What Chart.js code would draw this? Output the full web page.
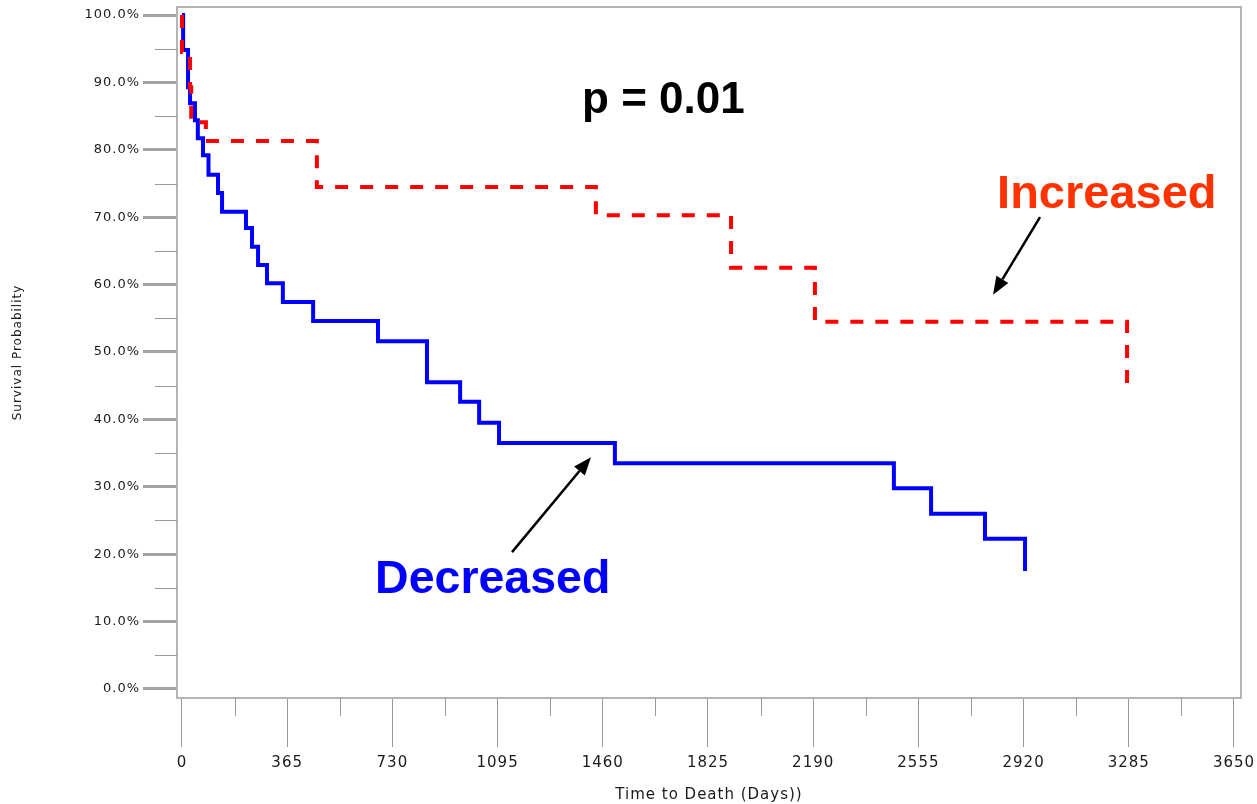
<!DOCTYPE html>
<html>
<head>
<meta charset="utf-8">
<script src="https://cdn.jsdelivr.net/npm/chart.js@4"></script>
<style>
  html, body { margin: 0; padding: 0; background: #fff; }
  canvas { display: block; }
</style>
</head>
<body>
<canvas id="km" width="1257" height="804"></canvas>
<script>
// Kaplan-Meier curves: event day -> survival % after the drop
const decreasedDays = [0, 4, 21, 28, 45, 55, 73, 92, 125, 139, 222, 243, 264, 295, 350, 455, 680, 850, 965, 1031, 1100, 1502, 2470, 2599, 2786, 2925]
const decreasedSurv = [100, 94.8, 89.3, 86.9, 84.4, 81.7, 79.2, 76.3, 73.6, 70.8, 68.4, 65.6, 62.9, 60.2, 57.4, 54.6, 51.6, 45.5, 42.6, 39.5, 36.5, 33.5, 29.8, 26.0, 22.3, 17.5]
const increasedDays = [0, 0, 28, 32, 83, 468, 1436, 1905, 2196, 3279]
const increasedSurv = [100, 94.5, 89.3, 84.1, 81.3, 74.5, 70.3, 62.5, 54.5, 44.7]

const xTicks = [0, 365, 730, 1095, 1460, 1825, 2190, 2555, 2920, 3285, 3650]
const yTicks = [0, 10, 20, 30, 40, 50, 60, 70, 80, 90, 100]

// text notes and arrows, placed in data units (day, %)
const notes = [
  { text: 'p = 0.01', day: 1388, pct: 85.5, color: '#000000', size: 44 },
  { text: 'Increased', day: 2828, pct: 71.4, color: '#ff3300', size: 47 },
  { text: 'Decreased', day: 670, pct: 14.2, color: '#0000ff', size: 46.5 }
]
const arrows = [
  { from: [2977, 70.0], to: [2814, 58.5] },
  { from: [1145, 20.3], to: [1419, 34.4] }
]

const labelColor = '#1a1a1a'
const toPoints = (days, surv) => days.map((d, i) => ({ x: d, y: surv[i] }))

const frame = {
  id: 'frame',
  beforeDraw(c) {
    c.ctx.letterSpacing = '1px'
  },
  beforeDatasetsDraw(c) {
    const { ctx, chartArea: a, scales: { x, y } } = c
    ctx.save()
    ctx.strokeStyle = '#b4b4b4'
    ctx.lineWidth = 2
    ctx.strokeRect(a.left, a.top, a.right - a.left, a.bottom - a.top)

    // minor ticks halfway between the labelled ones
    ctx.strokeStyle = '#999'
    ctx.lineWidth = 1
    ctx.beginPath()
    xTicks.slice(1).forEach(v => {
      const px = Math.round(x.getPixelForValue(v - 182.5)) + 0.5
      ctx.moveTo(px, a.bottom)
      ctx.lineTo(px, a.bottom + 18)
    })
    yTicks.slice(1).forEach(v => {
      const py = Math.round(y.getPixelForValue(v - 5)) + 0.5
      ctx.moveTo(a.left - 22, py)
      ctx.lineTo(a.left, py)
    })
    ctx.stroke()
    ctx.restore()
  },
  afterDraw(c) {
    const { ctx, scales: { x, y } } = c
    ctx.save()
    ctx.letterSpacing = '0px'
    ctx.textAlign = 'left'
    ctx.textBaseline = 'alphabetic'
    notes.forEach(n => {
      ctx.font = 'bold ' + n.size + 'px "Liberation Sans", Arial, sans-serif'
      ctx.fillStyle = n.color
      ctx.fillText(n.text, x.getPixelForValue(n.day), y.getPixelForValue(n.pct))
    })

    ctx.strokeStyle = '#000'
    ctx.fillStyle = '#000'
    ctx.lineWidth = 2.5
    arrows.forEach(ar => {
      const x0 = x.getPixelForValue(ar.from[0]), y0 = y.getPixelForValue(ar.from[1])
      const x1 = x.getPixelForValue(ar.to[0]), y1 = y.getPixelForValue(ar.to[1])
      const ang = Math.atan2(y1 - y0, x1 - x0)
      const head = 18, half = 7
      const bx = x1 - head * Math.cos(ang), by = y1 - head * Math.sin(ang)
      ctx.beginPath()
      ctx.moveTo(x0, y0)
      ctx.lineTo(bx, by)
      ctx.stroke()
      ctx.beginPath()
      ctx.moveTo(x1, y1)
      ctx.lineTo(bx + half * Math.sin(ang), by - half * Math.cos(ang))
      ctx.lineTo(bx - half * Math.sin(ang), by + half * Math.cos(ang))
      ctx.closePath()
      ctx.fill()
    })
    ctx.restore()
  }
}

new Chart(document.getElementById('km'), {
  type: 'line',
  data: {
    datasets: [
      {
        label: 'Increased',
        data: toPoints(increasedDays, increasedSurv),
        borderColor: '#ff0000',
        borderWidth: 4,
        borderDash: [13, 12],
        stepped: 'before',
        pointRadius: 0,
        fill: false,
        order: 0
      },
      {
        label: 'Decreased',
        data: toPoints(decreasedDays, decreasedSurv),
        borderColor: '#0000ff',
        borderWidth: 4,
        stepped: 'before',
        pointRadius: 0,
        fill: false,
        order: 1
      }
    ]
  },
  options: {
    responsive: false,
    animation: false,
    layout: { padding: { top: 7, right: 16, left: 0, bottom: 0 } },
    plugins: { legend: { display: false }, tooltip: { enabled: false } },
    scales: {
      x: {
        type: 'linear',
        min: -17.3,
        max: 3674.3,
        afterBuildTicks: s => { s.ticks = xTicks.map(v => ({ value: v })) },
        afterFit: s => { s.height = 106; s.paddingLeft = 0; s.paddingRight = 0 },
        ticks: {
          autoSkip: false,
          maxRotation: 0,
          padding: 7,
          color: labelColor,
          font: { family: 'DejaVu Sans', size: 15 },
          callback: v => String(v)
        },
        grid: { drawOnChartArea: false, tickLength: 49, tickColor: '#999', tickWidth: 1 },
        border: { display: false },
        title: {
          display: true,
          text: 'Time to Death (Days))',
          color: labelColor,
          font: { family: 'DejaVu Sans', size: 15, lineHeight: 1 },
          padding: { top: 0, bottom: 1 }
        }
      },
      y: {
        min: -1.34,
        max: 101.19,
        afterBuildTicks: s => { s.ticks = yTicks.map(v => ({ value: v })) },
        afterFit: s => { s.width = 177; s.paddingTop = 0; s.paddingBottom = 0 },
        ticks: {
          padding: 3,
          color: labelColor,
          font: { family: 'DejaVu Sans', size: 13 },
          callback: v => v.toFixed(1) + '%'
        },
        grid: { drawOnChartArea: false, tickLength: 34, tickColor: '#a3a3a3', tickWidth: 3 },
        border: { display: false },
        title: {
          display: true,
          text: 'Survival Probability',
          color: labelColor,
          font: { family: 'DejaVu Sans', size: 12 },
          padding: { top: 11, bottom: 0 }
        }
      }
    }
  },
  plugins: [frame]
})
</script>
</body>
</html>
